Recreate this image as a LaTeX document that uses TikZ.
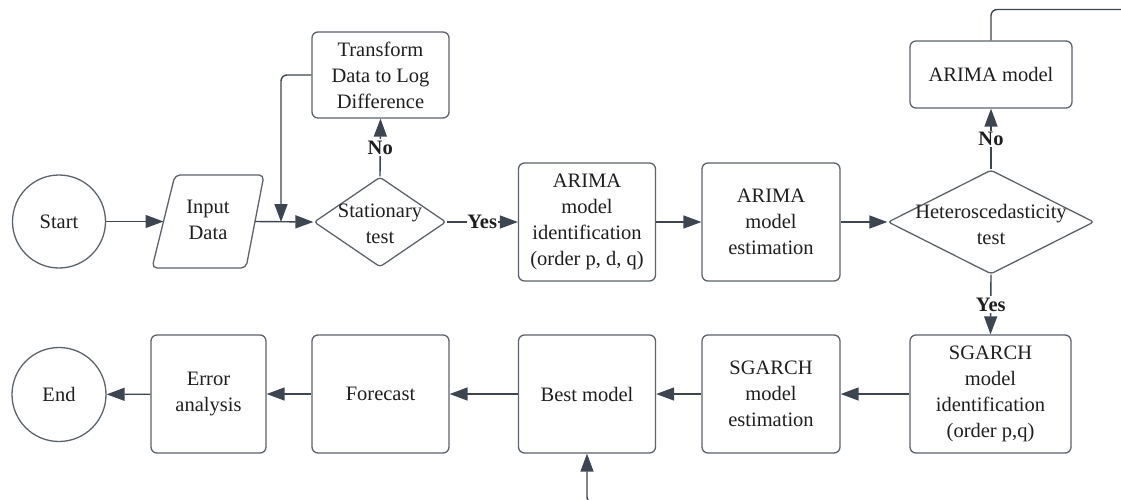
\documentclass[tikz,border=0pt]{standalone}
\usepackage{fontspec}
\setmainfont{Liberation Serif}
\newfontfamily\garfont{Liberation Serif}
\usetikzlibrary{arrows.meta,shapes.geometric}
\definecolor{boxc}{HTML}{5C636B}
\definecolor{arrc}{HTML}{3D4550}
\definecolor{txtc}{HTML}{1E1E1E}
\newcommand\fsz{\garfont\fontsize{20.5}{26}\selectfont}
\begin{document}
\begin{tikzpicture}[x=1pt,y=-1pt,
  box/.style={draw=boxc, line width=1.3pt, rounded corners=6pt, align=center, font=\fsz, text=txtc, inner sep=0pt},
  term/.style={draw=boxc, line width=1.3pt, circle, align=center, font=\fsz, text=txtc, inner sep=0pt},
  dia/.style={draw=boxc, line width=1.3pt, diamond, rounded corners=3pt, inner sep=0pt},
  txt/.style={align=center, font=\fsz, text=txtc, inner sep=0pt},
  lbl/.style={font=\fsz\bfseries, text=txtc, fill=white, inner sep=1.5pt},
  arr/.style={draw=arrc, line width=1.4pt, -{Triangle[length=18pt,width=13pt]}},
  ln/.style={draw=arrc, line width=1.4pt}]
\useasboundingbox (0,0) rectangle (1121,499);

% top row
\node[term, minimum size=93pt] (start) at (59,221.5) {Start};
\draw[draw=boxc, line width=1.3pt, rounded corners=5pt] (175,175) -- (264,175) -- (246,268) -- (152,268) -- cycle;
\node[txt] (inp) at (208,220) {Input\\Data};
\coordinate (inL) at (163.5,221.5);
\coordinate (inR) at (255,221.5);
\node[dia, minimum width=132pt, minimum height=90pt] (stat) at (380,222) {};
\node[txt] (statt) at (380,224) {Stationary\\test};
\node[box, minimum width=137pt, minimum height=86pt] (trans) at (380.5,75) {Transform\\Data to Log\\Difference};
\node[box, minimum width=137pt, minimum height=118pt] (aid) at (587,222) {ARIMA\\model\\identification\\(order p, d, q)};
\node[box, minimum width=138pt, minimum height=118pt] (aest) at (771,222) {ARIMA\\model\\estimation};
\node[dia, minimum width=206pt, minimum height=104pt] (het) at (991,222) {};
\node[txt] (hett) at (991,224) {Heteroscedasticity\\test};
\node[box, minimum width=162pt, minimum height=67pt] (amod) at (991,74.5) {ARIMA model};

% bottom row
\node[box, minimum width=161pt, minimum height=118pt] (sid) at (990.5,394) {SGARCH\\model\\identification\\(order p,q)};
\node[box, minimum width=138pt, minimum height=118pt] (sest) at (771,394) {SGARCH\\model\\estimation};
\node[box, minimum width=137pt, minimum height=118pt] (best) at (587,394) {Best model};
\node[box, minimum width=137pt, minimum height=118pt] (fore) at (380.5,394) {Forecast};
\node[box, minimum width=115pt, minimum height=118pt] (err) at (208.5,394) {Error\\analysis};
\node[term, minimum size=94pt] (end) at (59,394.5) {End};

\coordinate (junc) at (281,222);
\coordinate (topend) at (1140,9.5);
\coordinate (botend) at (650,503);

% connectors
\draw[arr] (start) -- (inL);
\draw[arr] (inR) -- (stat.west);
\draw[arr, rounded corners=6pt] (trans.west) -| (junc);
\draw[arr] (stat.north) -- node[lbl]{No} (trans.south);
\draw[arr] (stat.east) -- node[lbl, inner sep=0.5pt]{Yes} (aid.west);
\draw[arr] (aid) -- (aest);
\draw[arr] (aest) -- (het.west);
\draw[arr] (het.north) -- node[lbl]{No} (amod.south);
\draw[ln, rounded corners=6pt] (amod.north) |- (topend);
\draw[arr] (het.south) -- node[lbl]{Yes} (sid.north);
\draw[arr] (sid) -- (sest);
\draw[arr] (sest) -- (best);
\draw[arr] (best) -- (fore);
\draw[arr] (fore) -- (err);
\draw[arr] (err) -- (end);
\draw[arr, rounded corners=6pt] (botend) -| (best.south);
\end{tikzpicture}
\end{document}
